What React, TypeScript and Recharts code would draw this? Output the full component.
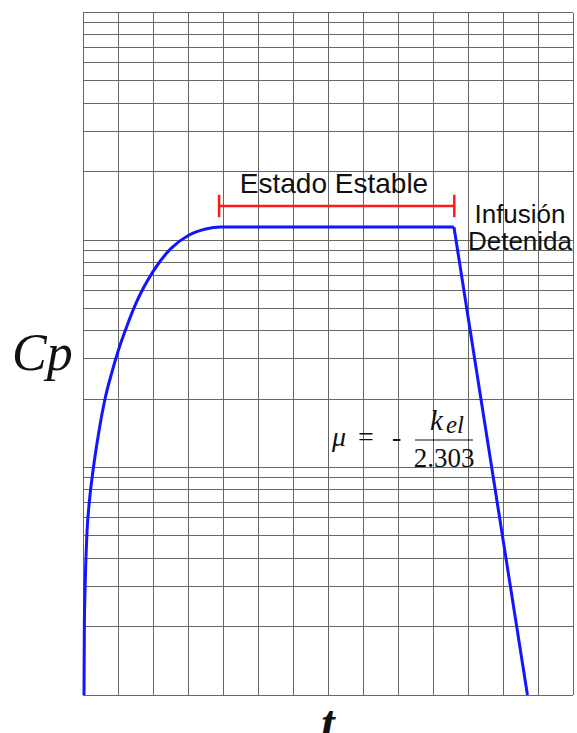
import { CartesianGrid, Line, LineChart, ReferenceLine, XAxis, YAxis } from "recharts";

// infusion: rise towards steady state, then first-order decay after stop
const riseT = [0.02, 0.03, 0.05, 0.1, 0.17, 0.29, 0.45, 0.62, 0.81, 1.0, 1.25, 1.5, 2.0, 2.5, 3.0, 3.5, 3.9, 10.59];
const riseCp = [1, 2, 2.9, 5, 7, 10, 14.5, 20, 26, 32.7, 42, 52.5, 73, 91.6, 104.7, 111.7, 114, 114];
const fallT = [10.59, 12.69];
const fallCp = [114, 1];

const tTicks = [0, 1, 2, 3, 4, 5, 6, 7, 8, 9, 10, 11, 12, 13, 14];
const cpTicks = [
  1, 2, 3, 4, 5, 6, 7, 8, 9,
  10, 20, 30, 40, 50, 60, 70, 80, 90,
  100, 200, 300, 400, 500, 600, 700, 800, 900, 1000,
];

// "Estado Estable" bracket
const steadyFrom = 3.88;
const steadyTo = 10.6;
const steadyCp = 141;
const capLow = 126;
const capHigh = 158;

const rise = riseT.map((t, i) => ({ t, cp: riseCp[i] }));
const fall = fallT.map((t, i) => ({ t, cp: fallCp[i] }));

const W = 577;
const H = 733;
const sans = "'Liberation Sans', Arial, sans-serif";
const serif = "'Liberation Serif', 'Times New Roman', serif";
const noTick = () => <g />;

export default function App() {
  return (
    <div style={{ position: "absolute", left: 0, top: 0, width: W, height: H, background: "#fff" }}>
      <style>{".recharts-cartesian-grid line { shape-rendering: crispEdges; }"}</style>
      <LineChart width={W} height={H} margin={{ top: 12.5, right: 3.7, bottom: 38, left: 83.3 }}>
        <CartesianGrid
          stroke="#666"
          strokeWidth={1}
          horizontalValues={cpTicks}
          verticalValues={tTicks}
        />
        <XAxis
          dataKey="t"
          type="number"
          domain={[0, 14]}
          ticks={tTicks}
          interval={0}
          tick={noTick}
          tickLine={false}
          axisLine={false}
          height={0}
        />
        <YAxis
          type="number"
          scale="log"
          domain={[1, 1000]}
          ticks={cpTicks}
          interval={0}
          allowDataOverflow
          tick={noTick}
          tickLine={false}
          axisLine={false}
          width={0}
        />
        <ReferenceLine
          segment={[{ x: steadyFrom, y: steadyCp }, { x: steadyTo, y: steadyCp }]}
          stroke="#ff1a1a"
          strokeWidth={2.5}
        />
        <ReferenceLine
          segment={[{ x: steadyFrom, y: capLow }, { x: steadyFrom, y: capHigh }]}
          stroke="#ff1a1a"
          strokeWidth={2.5}
        />
        <ReferenceLine
          segment={[{ x: steadyTo, y: capLow }, { x: steadyTo, y: capHigh }]}
          stroke="#ff1a1a"
          strokeWidth={2.5}
        />
        <Line
          data={rise}
          dataKey="cp"
          type="monotone"
          stroke="#1414ff"
          strokeWidth={3}
          dot={false}
          isAnimationActive={false}
        />
        <Line
          data={fall}
          dataKey="cp"
          type="linear"
          stroke="#1414ff"
          strokeWidth={3}
          dot={false}
          isAnimationActive={false}
        />
      </LineChart>
      <svg
        width={W}
        height={H}
        style={{ position: "absolute", left: 0, top: 0, pointerEvents: "none" }}
      >
        <text x={334} y={193} fontFamily={sans} fontSize={28} textAnchor="middle" fill="#111">
          Estado Estable
        </text>
        <text x={520} y={223} fontFamily={sans} fontSize={26} textAnchor="middle" fill="#111">
          Infusión
        </text>
        <text x={520} y={250} fontFamily={sans} fontSize={26} textAnchor="middle" fill="#111">
          Detenida
        </text>
        <text x={12} y={370} fontFamily={serif} fontStyle="italic" fontSize={52} fill="#111">
          Cp
        </text>
        <text x={328} y={739} fontFamily={serif} fontStyle="italic" fontWeight="bold" fontSize={48} textAnchor="middle" fill="#111">
          t
        </text>
        <g fontFamily={serif} fill="#111">
          <text x={332} y={446} fontSize={28} fontStyle="italic">μ</text>
          <text x={358} y={446} fontSize={28}>=</text>
          <text x={392} y={446} fontSize={28}>-</text>
          <text x={430} y={430} fontSize={29} fontStyle="italic">k</text>
          <text x={446} y={433} fontSize={25} fontStyle="italic">el</text>
          <line x1={415} y1={440} x2={473} y2={440} stroke="#111" strokeWidth={1} />
          <text x={444} y={467} fontSize={27} textAnchor="middle">2.303</text>
        </g>
      </svg>
    </div>
  );
}
